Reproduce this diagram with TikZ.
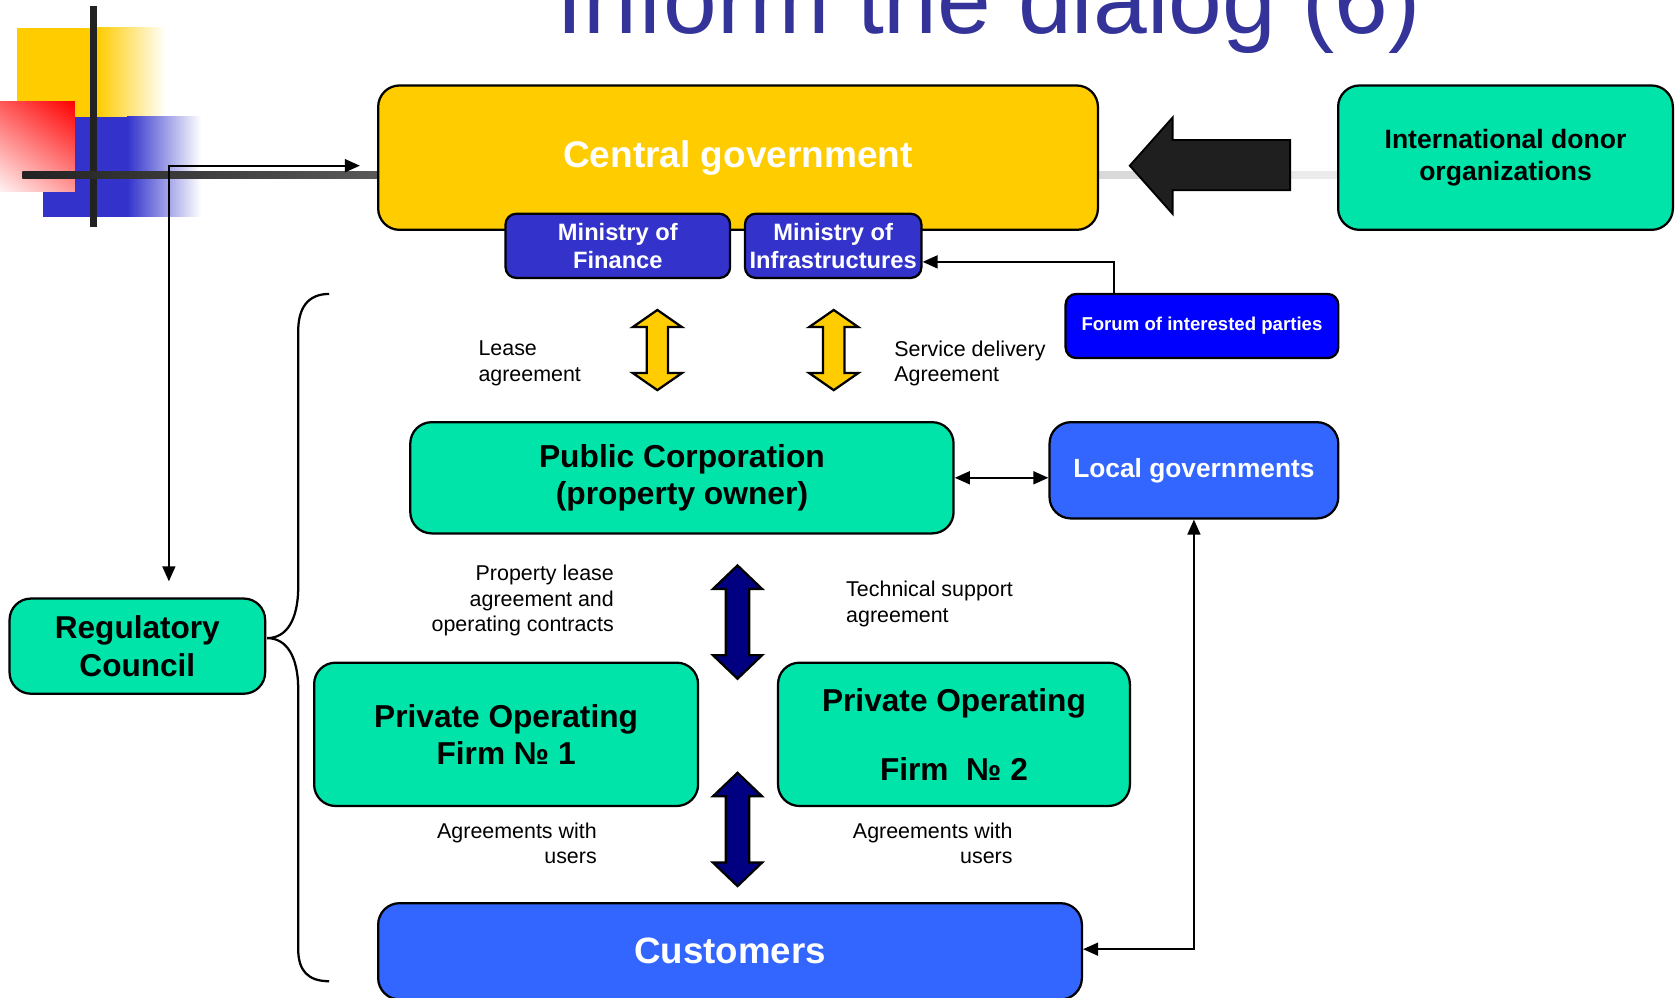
\documentclass[tikz,border=0pt]{standalone}
\usepackage{fontspec}
\setmainfont{Liberation Sans}
\usetikzlibrary{arrows.meta,shadings}
\definecolor{govyellow}{HTML}{FFCC00}
\definecolor{mint}{HTML}{00E4AA}
\definecolor{minblue}{HTML}{3333CC}
\definecolor{forumblue}{HTML}{0000FF}
\definecolor{cityblue}{HTML}{3366FF}
\definecolor{navyc}{HTML}{000080}
\definecolor{titleblue}{HTML}{333399}
\definecolor{barblack}{HTML}{222222}
\begin{document}
\begin{tikzpicture}[x=0.01cm,y=-0.01cm,
    box/.style={draw=black,line width=0.6pt,rounded corners=0.2cm,align=center,inner sep=0pt},
    link/.style={line width=0.6pt},
    tip/.style={-{Triangle[length=4pt,width=3.4pt]}},
    twotip/.style={{Triangle[length=4pt,width=3.4pt]}-{Triangle[length=4pt,width=3.4pt]}},
    note/.style={inner sep=0pt,font=\fontsize{5.7}{6.8}\selectfont}]
        \useasboundingbox (0,0) rectangle (1568,933);
        \clip (0,0) rectangle (1568,933);
        \node[anchor=base,text=titleblue,font=\fontsize{25.7}{30}\selectfont] (title) at (925,31) {Inform the dialog (6)};
        % corner ornament
        \fill[govyellow] (16,26) rectangle (92,109);
        \shade[left color=govyellow,right color=white] (91,26) rectangle (155,109);
        \fill[minblue] (40,109) rectangle (120,203);
        \shade[left color=minblue,right color=white] (119,109) rectangle (188,203);
        \shade[upper right=red,upper left=red!65,lower right=red!40,lower left=red!5] (0,95) rectangle (70,179);
        \fill[barblack] (84,6) rectangle (91,212);
        \shade[left color=barblack,right color=black!65] (21,160) rectangle (354,167);
        % donor push
        \fill[black!15] (1027,160) rectangle (1100,167);
        \fill[black!8] (1200,160) rectangle (1252,167);
        \filldraw[fill=black!88,draw=black,line width=0.5pt] (1057,155) -- (1097,110) -- (1097,131) -- (1207,131) -- (1207,178) -- (1097,178) -- (1097,200) -- cycle;
        % boxes
        \node[box,fill=govyellow,minimum width=6.73cm,minimum height=1.35cm,text=white,font=\bfseries\fontsize{9.85}{11}\selectfont] (gov) at (690.5,147.5) {Central government};
        \node[box,fill=minblue,rounded corners=0.1cm,minimum width=2.1cm,minimum height=0.6cm,text=white,font=\bfseries\fontsize{6.3}{7.4}\selectfont] (finance) at (578,230) {Ministry of\\Finance};
        \node[box,fill=minblue,rounded corners=0.1cm,minimum width=1.65cm,minimum height=0.6cm,text=white,font=\bfseries\fontsize{6.3}{7.4}\selectfont] (infra) at (779.5,230) {Ministry of\\Infrastructures};
        \node[box,fill=forumblue,rounded corners=0.1cm,minimum width=2.55cm,minimum height=0.6cm,text=white,font=\bfseries\fontsize{4.95}{6}\selectfont] (forum) at (1124.5,305) {Forum of interested parties};
        \node[box,fill=mint,minimum width=3.13cm,minimum height=1.35cm,font=\bfseries\fontsize{7.06}{8.54}\selectfont] (donor) at (1408.5,147.5) {International donor\\organizations};
        \node[box,fill=mint,minimum width=5.08cm,minimum height=1.04cm,font=\bfseries\fontsize{8.45}{9.96}\selectfont] (pub) at (638,447) {Public Corporation\\(property owner)};
        \node[box,fill=cityblue,minimum width=2.7cm,minimum height=0.9cm,text=white,font=\bfseries\fontsize{7}{8.4}\selectfont] (local) at (1117,440) {Local governments};
        \node[box,fill=mint,minimum width=2.39cm,minimum height=0.89cm,font=\bfseries\fontsize{8.4}{9.96}\selectfont] (reg) at (128.5,604.5) {Regulatory\\Council};
        \node[box,fill=mint,minimum width=3.59cm,minimum height=1.34cm,font=\bfseries\fontsize{8.42}{9.96}\selectfont] (firmA) at (473.5,687) {Private Operating\\Firm № 1};
        \node[box,fill=mint,minimum width=3.29cm,minimum height=1.34cm,font=\bfseries\fontsize{8.42}{9.96}\selectfont] (firmB) at (892.5,687) {Private Operating\\[0.3cm]Firm\ \ № 2};
        \node[box,fill=cityblue,minimum width=6.58cm,minimum height=0.9cm,text=white,font=\bfseries\fontsize{9.76}{11}\selectfont] (cust) at (683,890) {Customers};
        % agreements
        \filldraw[fill=govyellow,line width=0.6pt] (615,290) -- (638,306) -- (625,306) -- (625,349) -- (638,349) -- (615,365) -- (592,349) -- (605,349) -- (605,306) -- (592,306) -- cycle;
        \filldraw[fill=govyellow,line width=0.6pt] (780,290) -- (803,306) -- (790,306) -- (790,349) -- (803,349) -- (780,365) -- (757,349) -- (770,349) -- (770,306) -- (757,306) -- cycle;
        \filldraw[fill=navyc,line width=0.6pt] (690,529) -- (713,551) -- (701,551) -- (701,613) -- (713,613) -- (690,635) -- (667,613) -- (679,613) -- (679,551) -- (667,551) -- cycle;
        \filldraw[fill=navyc,line width=0.6pt] (690,723) -- (713,745) -- (701,745) -- (701,807) -- (713,807) -- (690,829) -- (667,807) -- (679,807) -- (679,745) -- (667,745) -- cycle;
        \node[note,anchor=west,align=left] (lease) at (447,340) {Lease\\agreement};
        \node[note,anchor=west,align=left] (service) at (836,340) {Service delivery\\Agreement};
        \node[note,anchor=east,align=right] (proplease) at (575,562) {Property lease\\agreement and\\operating contracts};
        \node[note,anchor=west,align=left] (techsup) at (791,565) {Technical support\\agreement};
        \node[note,anchor=east,align=right] (usersA) at (559,789) {Agreements with\\users};
        \node[note,anchor=east,align=right] (usersB) at (948,789) {Agreements with\\users};
        % links
        \coordinate (regbend) at (158,155);
        \draw[link,twotip,shorten <=0.15cm,shorten >=0.16cm] (reg.north -| regbend) -- (regbend) -- (regbend -| gov.west);
        \coordinate (forumbend) at (1042,245);
        \draw[link,tip] (forum.north -| forumbend) -- (forumbend) -- (forumbend -| infra.east);
        \draw[link,twotip] (pub.east) -- (pub.east -| local.west);
        \coordinate (custbend) at (1117,888);
        \draw[link,twotip] (local.south) -- (custbend) -- (custbend -| cust.east);
        % regulated parties
        \draw[link] (308,275) .. controls (288,275) and (279,288) .. (279,310) -- (279,549) .. controls (279,580) and (268,597) .. (250,597) .. controls (268,597) and (279,614) .. (279,645) -- (279,888) .. controls (279,908) and (288,918) .. (308,918);
\end{tikzpicture}
\end{document}
